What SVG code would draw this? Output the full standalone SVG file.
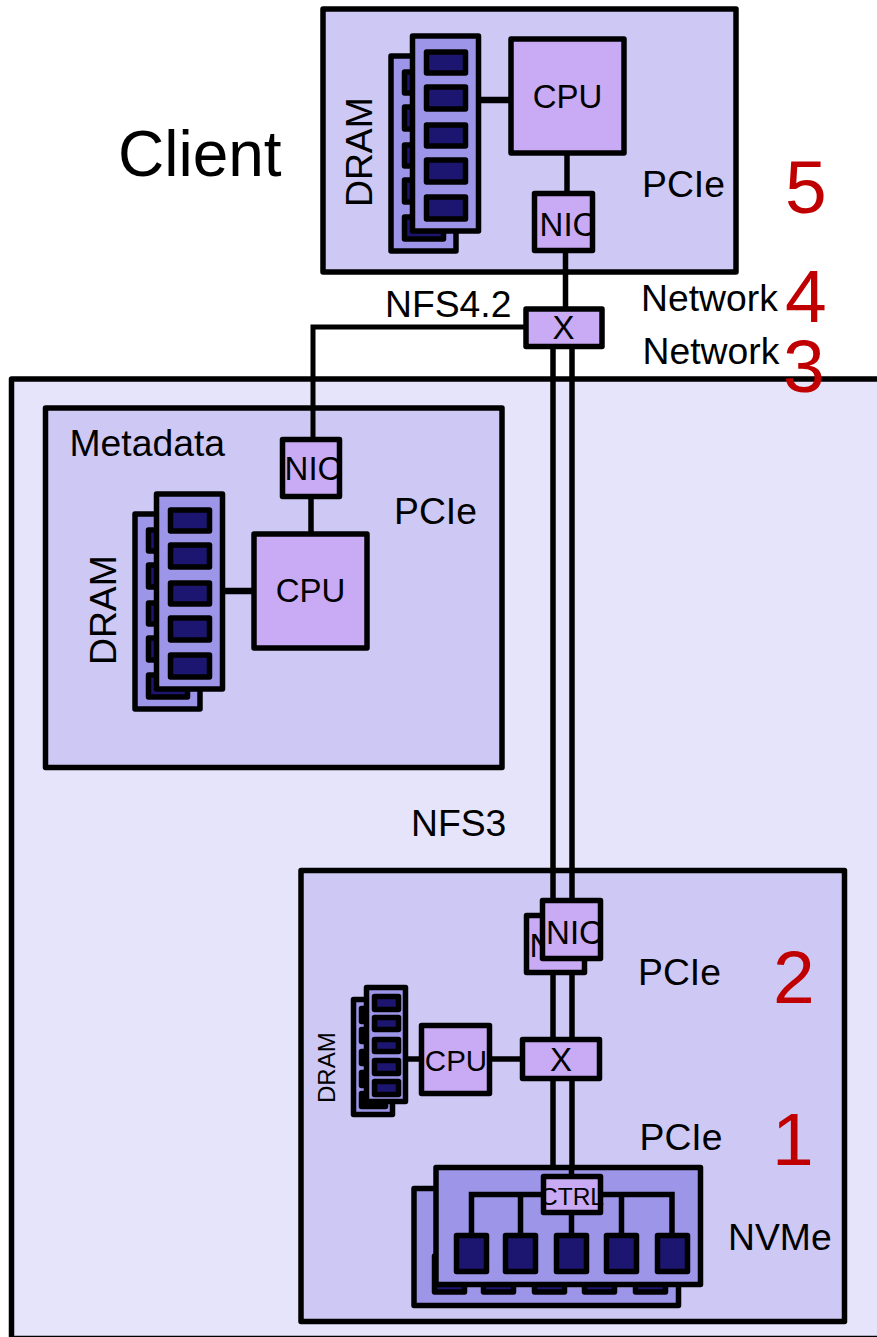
<svg xmlns="http://www.w3.org/2000/svg" width="877" height="1337" viewBox="0 0 877 1337">
<style>
text{font-family:"Liberation Sans",Arial,sans-serif;fill:#000}
.s{stroke:#000;stroke-width:5.500;stroke-linejoin:round}
.o{fill:none}
.zone{fill:#e6e4fa}
.box{fill:#cec8f4}
.part{fill:#c8aaf5}
.mod{fill:#9d96e8}
.chip{fill:#1c1670}
.l{font-size:37.300px}
.c{font-size:33px;text-anchor:middle}
.n{font-size:75px;fill:#c00000}
.w{fill:none;stroke:#000;stroke-width:5.500}
</style>
<defs>
<g id="dramModule">
<rect class="s mod" x="391" y="56" width="65" height="195"/>
<g class="s chip">
<rect x="404.500" y="72" width="39" height="21"/><rect x="404.500" y="107" width="39" height="22"/><rect x="404.500" y="145" width="39" height="21"/><rect x="404.500" y="180" width="39" height="22"/><rect x="404.500" y="217" width="39" height="22"/>
</g>
<rect class="s mod" x="412.500" y="36" width="66" height="195"/>
<g class="s chip">
<rect x="426.500" y="52" width="39" height="21"/><rect x="426.500" y="87" width="39" height="22"/><rect x="426.500" y="125" width="39" height="21"/><rect x="426.500" y="160" width="39" height="22"/><rect x="426.500" y="197" width="39" height="22"/>
</g>
</g>
</defs>
<g id="server-zone"><rect class="s zone" x="11.500" y="379" width="900" height="959.600"/></g>
<g id="client"><rect class="s box" x="323" y="9" width="413" height="263"/></g>
<g id="metadata"><rect class="s box" x="45.500" y="408" width="456.500" height="359.500"/></g>
<g id="data-server"><rect class="s box" x="301" y="870.500" width="543.500" height="451"/></g>
<g id="connectors" class="w">
<path d="M567 153V193M565.500 251V309"/>
<path d="M481 100H511" stroke-width="6.500"/>
<path d="M526 327H313V439" stroke-width="5"/>
<path d="M311 497V533"/>
<path d="M225 591H254" stroke-width="6.500"/>
<path d="M553 346V1167M572 346V1177"/>
<path d="M408 1059H421.500M489.500 1059H522.500"/>
</g>
<g id="client-dram"><use href="#dramModule"/><text class="l" transform="translate(372 207) rotate(-90)">DRAM</text></g>
<g id="client-cpu"><rect class="s part" x="511" y="39" width="113" height="114"/><text class="c" x="567.500" y="108">CPU</text></g>
<g id="client-nic"><rect class="part" x="534.500" y="193.500" width="58" height="57"/><text class="c" x="568" y="236">NIC</text><rect class="s o" x="534.500" y="193.500" width="58" height="57"/></g>
<g id="switch-top"><rect class="s part" x="526" y="309" width="76" height="37.500"/><text class="c" x="563.500" y="339">X</text></g>
<g id="meta-dram"><use href="#dramModule" transform="translate(-256 458)"/><text class="l" transform="translate(116 665) rotate(-90)">DRAM</text></g>
<g id="meta-cpu"><rect class="s part" x="254" y="534" width="113" height="114"/><text class="c" x="310.500" y="602">CPU</text></g>
<g id="meta-nic"><rect class="part" x="282.500" y="439.500" width="57" height="57"/><text class="c" x="313" y="480">NIC</text><rect class="s o" x="282.500" y="439.500" width="57" height="57"/></g>
<g id="data-dram">
<rect class="s mod" x="353.500" y="999.500" width="39" height="115"/>
<g class="s chip"><rect x="361.500" y="1008.500" width="24" height="13"/><rect x="361.500" y="1029.500" width="24" height="12"/><rect x="361.500" y="1051.500" width="24" height="12"/><rect x="361.500" y="1072.500" width="24" height="13"/><rect x="361.500" y="1093.500" width="24" height="13"/></g>
<rect class="s mod" x="366.500" y="987.500" width="39" height="114"/>
<g class="s chip"><rect x="374.500" y="996.500" width="24" height="13"/><rect x="374.500" y="1017.500" width="24" height="12"/><rect x="374.500" y="1039.500" width="24" height="12"/><rect x="374.500" y="1060.500" width="24" height="13"/><rect x="374.500" y="1081.500" width="24" height="13"/></g>
<text transform="translate(335 1103) rotate(-90)" font-size="24">DRAM</text>
</g>
<g id="data-cpu"><rect class="part" x="421.500" y="1025.500" width="68" height="68"/><text x="456" y="1071" font-size="29.500" text-anchor="middle">CPU</text><rect class="s o" x="421.500" y="1025.500" width="68" height="68"/></g>
<g id="data-nic-back"><rect class="part" x="526.500" y="915.500" width="58" height="57"/><text class="c" x="558" y="957">NIC</text><rect class="s o" x="526.500" y="915.500" width="58" height="57"/></g>
<g id="data-nic-front"><rect class="part" x="542.500" y="900.500" width="58" height="58"/><text class="c" x="574.500" y="944">NIC</text><rect class="s o" x="542.500" y="900.500" width="58" height="58"/></g>
<g id="switch-data"><rect class="s part" x="522.500" y="1039.500" width="77" height="39"/><text class="c" x="561" y="1071">X</text></g>
<g id="nvme">
<rect class="s mod" x="414" y="1188.500" width="264.500" height="117"/>
<g class="s chip"><rect x="434.500" y="1256" width="30" height="36"/><rect x="483.500" y="1256" width="30" height="36"/><rect x="534.500" y="1256" width="30" height="36"/><rect x="584.500" y="1256" width="30" height="36"/><rect x="635.500" y="1256" width="30" height="36"/></g>
<rect class="s mod" x="436" y="1167.500" width="264.500" height="117"/>
<path class="w" d="M471.500 1233V1194.500H672V1233M520.500 1194.500V1233M621.500 1194.500V1233M571.500 1167.500V1235"/>
<g class="s chip"><rect x="456.500" y="1235.500" width="30" height="36"/><rect x="505.500" y="1235.500" width="30" height="36"/><rect x="556.500" y="1235.500" width="30" height="36"/><rect x="606.500" y="1235.500" width="30" height="36"/><rect x="657.500" y="1235.500" width="30" height="36"/></g>
<rect class="part" x="543.500" y="1176.500" width="57" height="36"/><text x="572" y="1205" font-size="24.500" text-anchor="middle">CTRL</text><rect class="s o" x="543.500" y="1176.500" width="57" height="36"/>
</g>
<g id="labels">
<text x="118" y="176" font-size="64">Client</text>
<text class="l" x="385" y="317">NFS4.2</text>
<text class="l" x="642" y="197">PCIe</text>
<text class="l" x="641" y="310.500">Network</text>
<text class="l" x="642.500" y="363.500">Network</text>
<text class="l" x="69.500" y="456">Metadata</text>
<text class="l" x="394" y="524">PCIe</text>
<text class="l" x="411" y="836">NFS3</text>
<text class="l" x="638" y="985">PCIe</text>
<text class="l" x="639.500" y="1150">PCIe</text>
<text class="l" x="728" y="1250">NVMe</text>
<text class="n" x="785" y="213">5</text>
<text class="n" x="785" y="322">4</text>
<text class="n" x="783" y="392">3</text>
<text class="n" x="773" y="1003">2</text>
<text class="n" x="772" y="1165">1</text>
</g>
</svg>
